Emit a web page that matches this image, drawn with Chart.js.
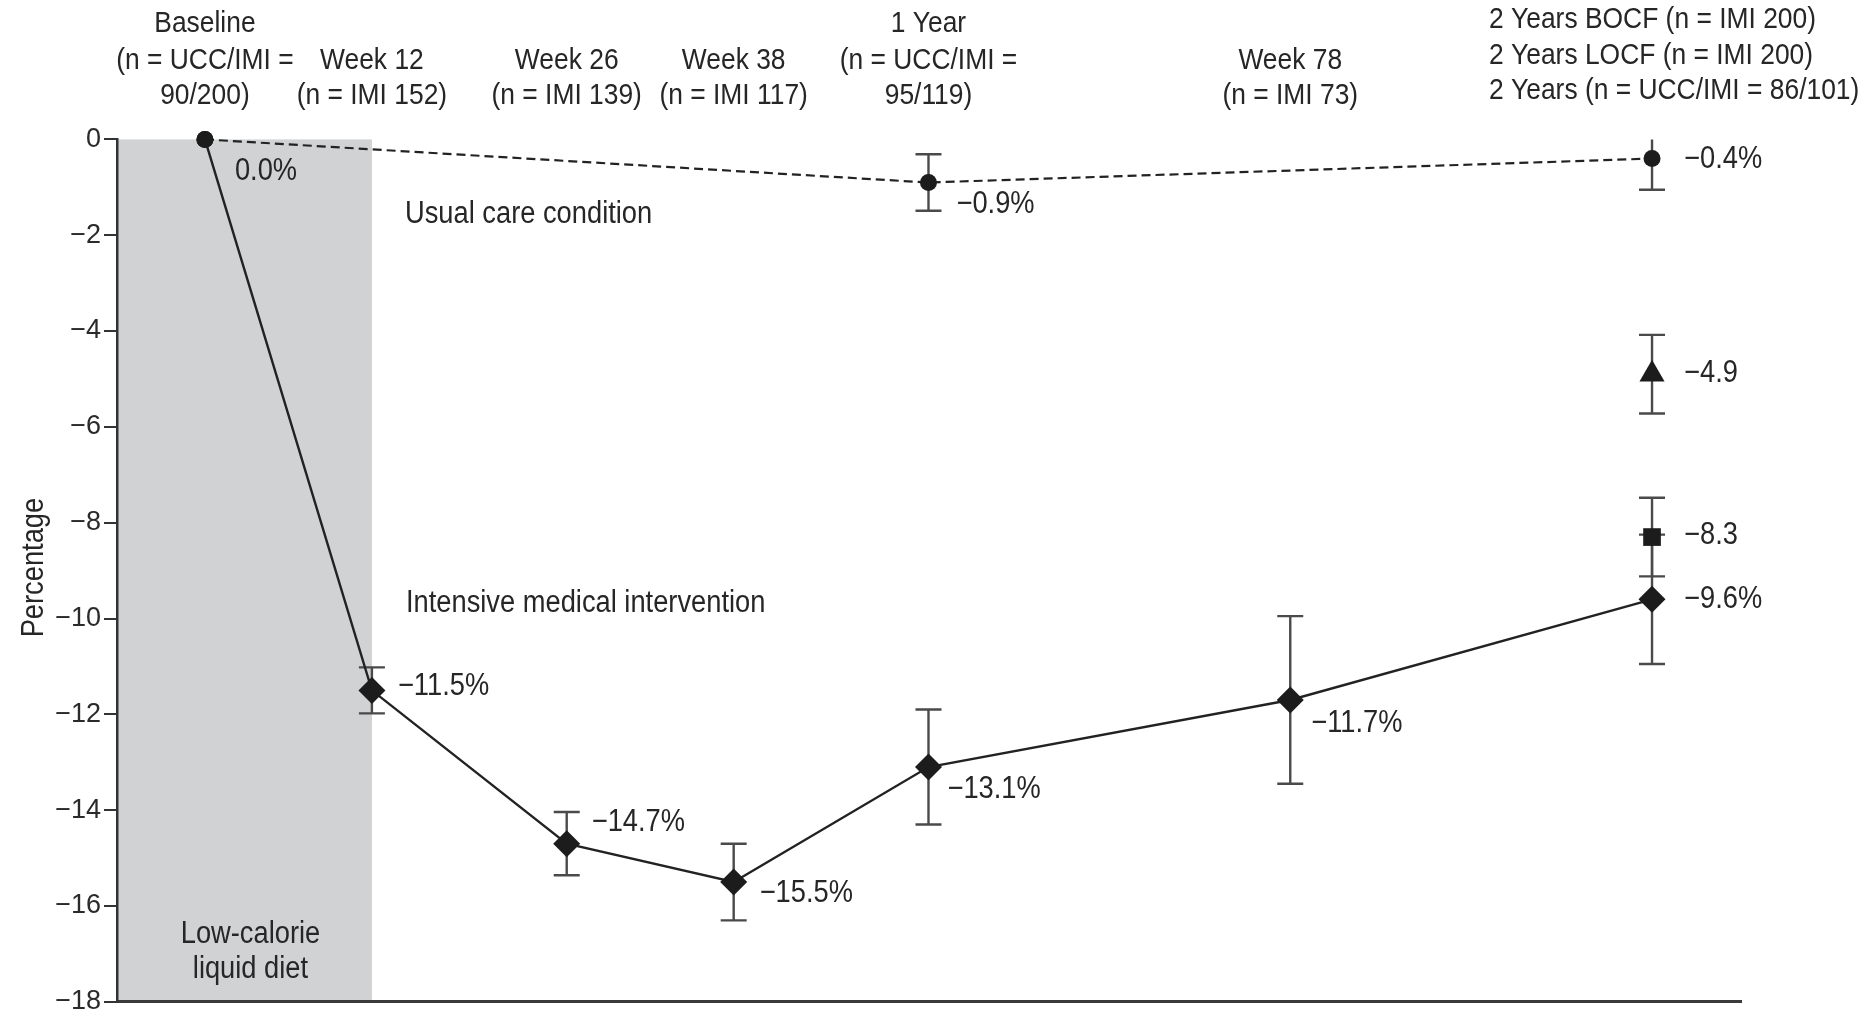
<!DOCTYPE html>
<html>
<head>
<meta charset="utf-8">
<script src="https://cdn.jsdelivr.net/npm/chart.js@4.4.1/dist/chart.umd.min.js"></script>
<style>
  html, body { margin: 0; padding: 0; background: #fff; }
  canvas { display: block; }
</style>
</head>
<body>
<canvas id="chart" width="1868" height="1021"></canvas>
<script>
// Assessment time points, in weeks since baseline
const weeks = [0, 12, 26, 38, 52, 78, 104];

// Intensive medical intervention (IMI): mean change in weight (%) and error-bar half-widths
const imiMean = [0.0, -11.5, -14.7, -15.5, -13.1, -11.7, -9.6];
const imiErr  = [0, 0.48, 0.66, 0.80, 1.20, 1.75, 1.35];

// Usual care condition (UCC)
const uccWeeks = [0, 52, 104];
const uccMean  = [0.0, -0.9, -0.4];
const uccErr   = [0, 0.59, 0.65];

// Two-year imputed estimates for IMI
const locfWeeks = [104];
const locfMean  = [-8.3];
const locfErr   = [0.82];
const bocfWeeks = [104];
const bocfMean  = [-4.9];
const bocfErr   = [0.82];

// Y axis ticks
const yTicks = [0, -2, -4, -6, -8, -10, -12, -14, -16, -18];

// Column headers above the plot
const headerLines = [
  ['Baseline', '(n = UCC/IMI =', '90/200)'],
  ['', 'Week 12', '(n = IMI 152)'],
  ['', 'Week 26', '(n = IMI 139)'],
  ['', 'Week 38', '(n = IMI 117)'],
  ['1 Year', '(n = UCC/IMI =', '95/119)'],
  ['', 'Week 78', '(n = IMI 73)'],
  null
];
const twoYearHeader = [
  '2 Years BOCF (n = IMI 200)',
  '2 Years LOCF (n = IMI 200)',
  '2 Years (n = UCC/IMI = 86/101)'
];

const INK = '#262626';
const FONT = 'Liberation Sans, Arial, sans-serif';
const SQUEEZE = 0.88; // horizontal compression for the condensed type

function fmt(v, pct) {
  const s = (v < 0 ? '\u2212' : '') + Math.abs(v).toFixed(1);
  return pct ? s + '%' : s;
}

function squeezedText(ctx, text, x, y, align, baseline, size) {
  ctx.save();
  ctx.translate(x, y);
  ctx.scale(SQUEEZE, 1);
  ctx.font = size + 'px ' + FONT;
  ctx.textAlign = align;
  ctx.textBaseline = baseline;
  ctx.fillStyle = INK;
  ctx.fillText(text, 0, 0);
  ctx.restore();
}

// Pixel offsets of the value labels relative to their markers
const labelOffsets = {
  imi:  [[30, 32], [26, -4], [25, -21], [26, 11], [19, 22], [21, 23], [32, 0]],
  ucc:  [null, [28, 22], [32, 1]],
  locf: [[32, -2]],
  bocf: [[32, -1]]
};

const shadePlugin = {
  id: 'shade',
  beforeDraw(chart) {
    const { ctx, chartArea: a, scales: { x } } = chart;
    ctx.save();
    ctx.fillStyle = 'rgb(209,210,212)';
    const right = x.getPixelForValue(weeks[1]);
    ctx.fillRect(a.left, a.top, right - a.left, a.bottom - a.top);
    ctx.restore();
  }
};

const errorBarPlugin = {
  id: 'errorBars',
  beforeDatasetsDraw(chart) {
    const { ctx, chartArea: a, scales: { x, y } } = chart;
    ctx.save();
    ctx.beginPath();
    ctx.rect(a.left, a.top, a.right - a.left, a.bottom - a.top);
    ctx.clip();
    ctx.strokeStyle = '#4a4a4a';
    ctx.lineWidth = 2.4;
    chart.data.datasets.forEach(ds => {
      (ds.errors || []).forEach((e, i) => {
        if (!e) return;
        const p = ds.data[i];
        const px = x.getPixelForValue(p.x);
        const top = y.getPixelForValue(p.y + e);
        const bot = y.getPixelForValue(p.y - e);
        ctx.beginPath();
        ctx.moveTo(px, top); ctx.lineTo(px, bot);
        ctx.moveTo(px - 13, top); ctx.lineTo(px + 13, top);
        ctx.moveTo(px - 13, bot); ctx.lineTo(px + 13, bot);
        ctx.stroke();
      });
    });
    ctx.restore();
  }
};

const textPlugin = {
  id: 'texts',
  afterDraw(chart) {
    const { ctx, chartArea: a, scales: { x, y } } = chart;

    // value labels
    chart.data.datasets.forEach(ds => {
      const offs = labelOffsets[ds.key];
      ds.data.forEach((p, i) => {
        const o = offs[i];
        if (!o) return;
        const px = x.getPixelForValue(p.x) + o[0];
        const py = y.getPixelForValue(p.y) + o[1];
        squeezedText(ctx, fmt(p.y, ds.pct), px, py, 'left', 'middle', 31);
      });
    });

    // column headers
    const rowY = [24, 61, 96];
    headerLines.forEach((lines, i) => {
      if (!lines) return;
      const cx = x.getPixelForValue(weeks[i]);
      lines.forEach((t, r) => {
        if (t) squeezedText(ctx, t, cx, rowY[r], 'center', 'middle', 30);
      });
    });
    const lx = x.getPixelForValue(weeks[6]) - 163;
    twoYearHeader.forEach((t, r) => {
      squeezedText(ctx, t, lx, [20, 56, 91][r], 'left', 'middle', 30);
    });

    // in-plot annotations
    squeezedText(ctx, 'Usual care condition', 405, 222.7, 'left', 'alphabetic', 31);
    squeezedText(ctx, 'Intensive medical intervention', 406, 611.7, 'left', 'alphabetic', 31);
    const bandMid = (a.left + x.getPixelForValue(weeks[1])) / 2;
    squeezedText(ctx, 'Low-calorie', bandMid + 6, 942.7, 'center', 'alphabetic', 31);
    squeezedText(ctx, 'liquid diet', bandMid + 6, 978.3, 'center', 'alphabetic', 31);

    // y axis title
    ctx.save();
    ctx.translate(43, (a.top + a.bottom) / 2 - 3);
    ctx.rotate(-Math.PI / 2);
    ctx.scale(SQUEEZE, 1);
    ctx.font = '31px ' + FONT;
    ctx.textAlign = 'center';
    ctx.textBaseline = 'alphabetic';
    ctx.fillStyle = INK;
    ctx.fillText('Percentage', 0, 0);
    ctx.restore();
  }
};

const toPoints = (xs, ys) => xs.map((w, i) => ({ x: w, y: ys[i] }));
const MARK = '#1c1c1c';

new Chart(document.getElementById('chart'), {
  type: 'line',
  data: {
    datasets: [
      {
        key: 'imi', pct: true,
        data: toPoints(weeks, imiMean),
        errors: imiErr,
        borderColor: '#222', borderWidth: 2.4,
        pointStyle: c => c.dataIndex === 0 ? 'circle' : 'rectRot',
        pointRadius: c => c.dataIndex === 0 ? 8.5 : 13.5,
        pointBackgroundColor: MARK, pointBorderColor: MARK, pointBorderWidth: 0,
        fill: false, tension: 0, clip: false
      },
      {
        key: 'ucc', pct: true,
        data: toPoints(uccWeeks, uccMean),
        errors: uccErr,
        borderColor: '#222', borderWidth: 2.2, borderDash: [9, 5],
        pointStyle: 'circle', pointRadius: 8.5,
        pointBackgroundColor: MARK, pointBorderColor: MARK, pointBorderWidth: 0,
        fill: false, tension: 0, clip: false
      },
      {
        key: 'locf', pct: false,
        data: toPoints(locfWeeks, locfMean),
        errors: locfErr,
        showLine: false,
        pointStyle: 'rect', pointRadius: 12.5,
        pointBackgroundColor: MARK, pointBorderColor: MARK, pointBorderWidth: 0,
        clip: false
      },
      {
        key: 'bocf', pct: false,
        data: toPoints(bocfWeeks, bocfMean),
        errors: bocfErr,
        showLine: false,
        pointStyle: 'triangle', pointRadius: 14.5,
        pointBackgroundColor: MARK, pointBorderColor: MARK, pointBorderWidth: 0,
        clip: false
      }
    ]
  },
  options: {
    responsive: false,
    animation: false,
    events: [],
    layout: { padding: { top: 139.4, right: 126.5, bottom: 0, left: 0 } },
    plugins: { legend: { display: false }, tooltip: { enabled: false } },
    scales: {
      x: {
        type: 'linear', min: -6.32, max: 110.43,
        ticks: { display: false },
        grid: { display: false },
        border: { display: true, color: '#3a3a3a', width: 3 },
        afterFit(s) { s.height = 14.4; }
      },
      y: {
        type: 'linear', min: -18, max: 0,
        afterBuildTicks(s) { s.ticks = yTicks.map(v => ({ value: v })); },
        ticks: {
          callback: v => v === 0 ? '0' : '\u2212' + Math.abs(v),
          font: { family: FONT, size: 27 },
          color: '#2a2a2a',
          padding: 3
        },
        grid: { drawOnChartArea: false, drawTicks: true, tickLength: 13, color: '#333', lineWidth: 2 },
        border: { display: true, color: '#333', width: 2.5 },
        afterFit(s) { s.width = 117; }
      }
    }
  },
  plugins: [shadePlugin, errorBarPlugin, textPlugin]
});
</script>
</body>
</html>
